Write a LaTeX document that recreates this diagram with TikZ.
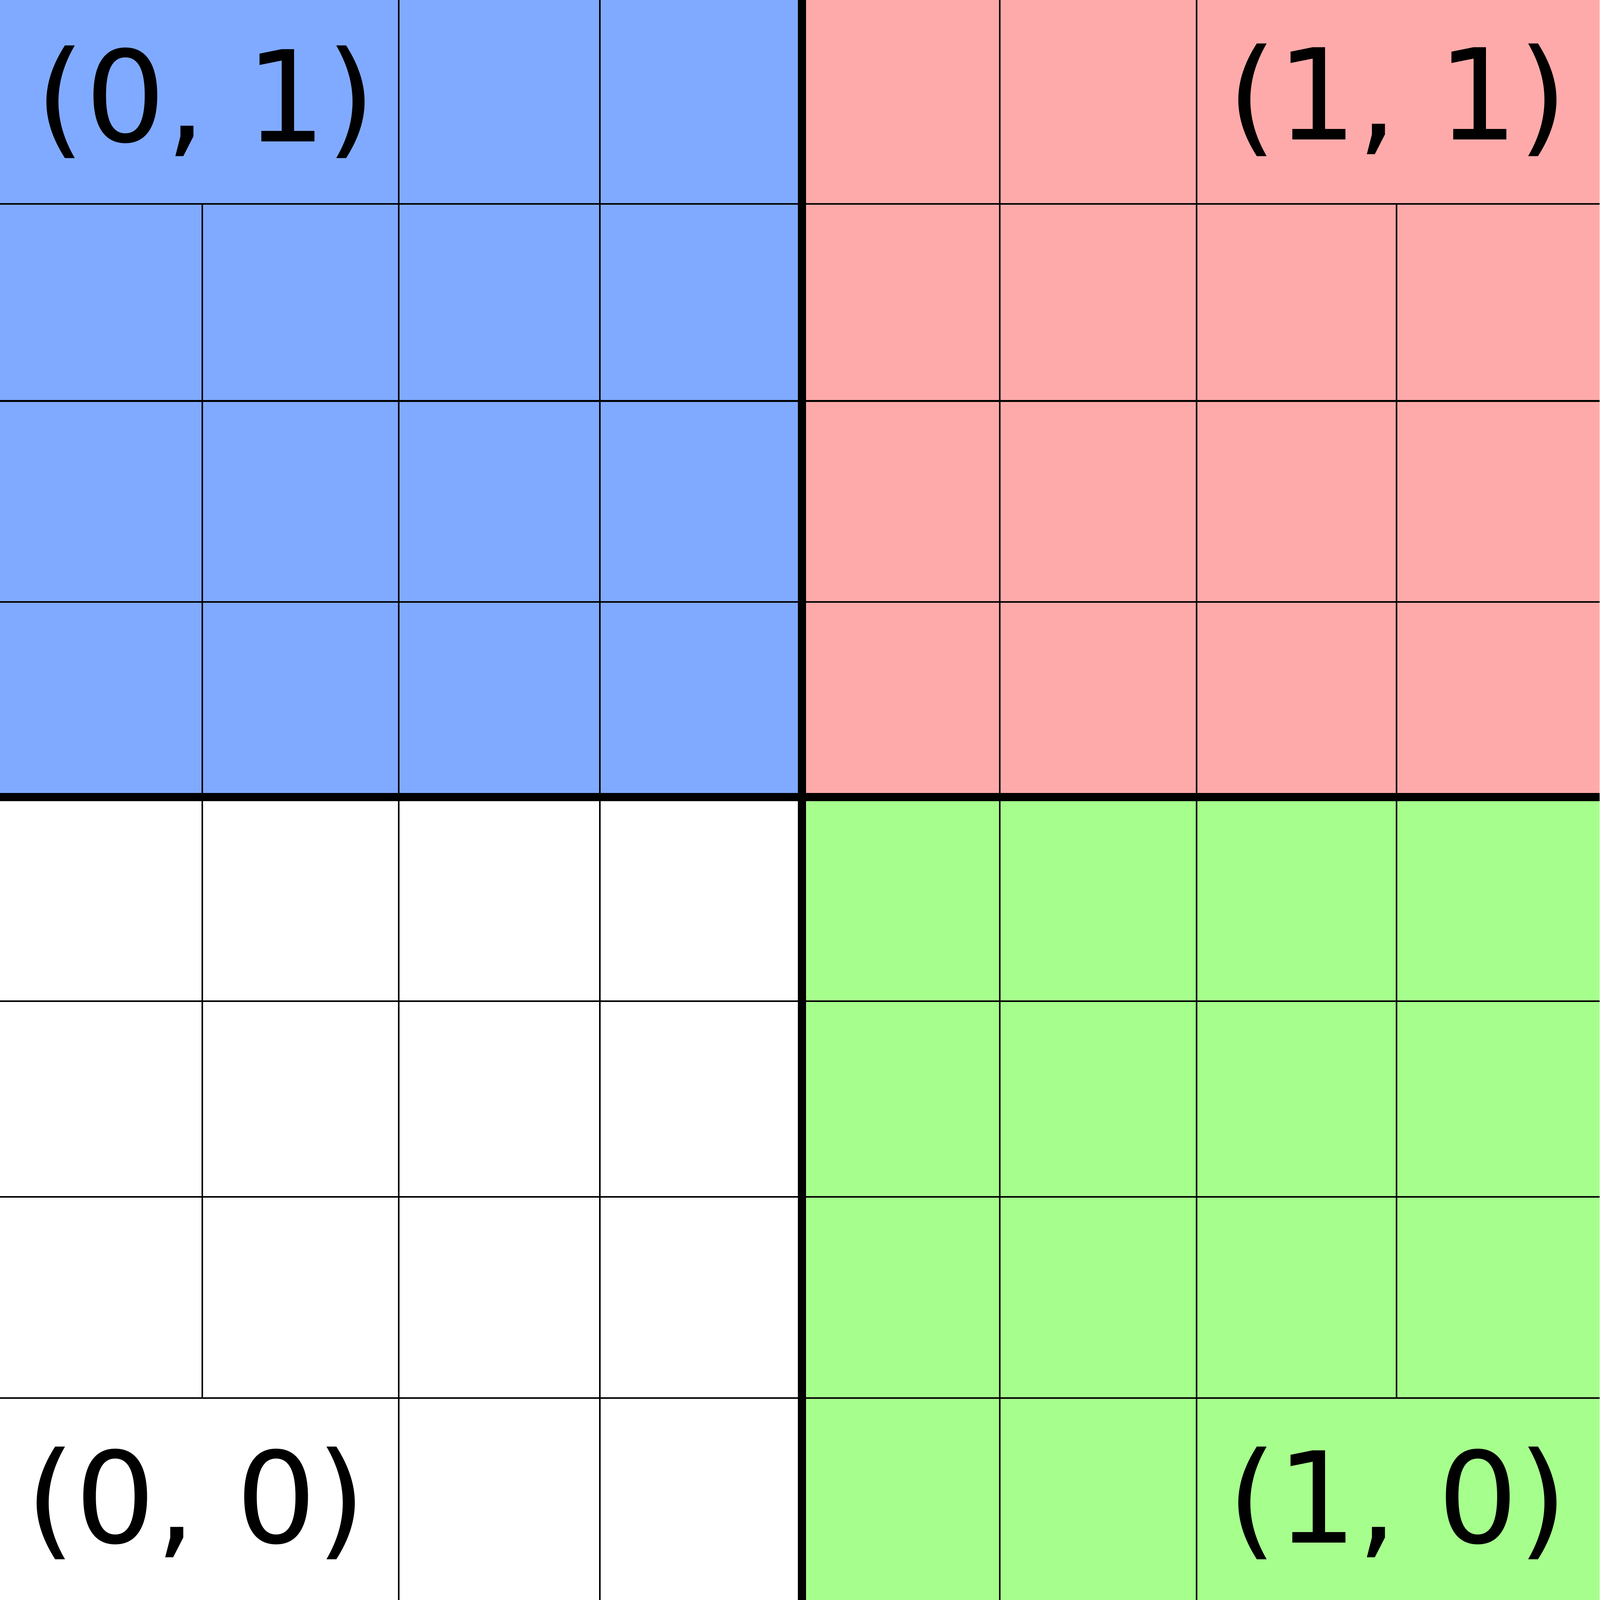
\documentclass[tikz,border=0pt]{standalone}
\usepackage{fontspec}
\setmainfont{DejaVu Sans}
\usetikzlibrary{positioning}
\definecolor{quadblue}{HTML}{80AAFF}
\definecolor{quadred}{HTML}{FFAAAA}
\definecolor{quadgreen}{HTML}{A6FF8C}

\begin{document}
\begin{tikzpicture}[x=2cm, y=2cm, every node/.style={font=\fontsize{36}{40}\selectfont, inner sep=0pt},
    gridline/.style={line width=0.45pt}, splitline/.style={line width=2.3pt}]

        \useasboundingbox (0,0) rectangle (8,8);

        \def\n{8} % cells per side
        \def\hx{4.01} % where the quadrants meet
        \def\hy{4.015}

        % quadrant colours (bottom left stays white)
        \fill[quadblue] (0,\hy) rectangle (\hx,\n);
        \fill[quadred] (\hx,\hy) rectangle (\n,\n);
        \fill[quadgreen] (\hx,0) rectangle (\n,\hy);

        \foreach \j in {1.01,2.015,2.995,4.99,5.995,6.98} {
          \draw[gridline] (0,\j) -- (\n,\j);
        }

        \foreach \i in {1.995,3.0,5.0,5.985} {
          \draw[gridline] (\i,0) -- (\i,\n);
        }

        % these stop short of the label cells
        \foreach \i in {1.012,6.985} {
          \draw[gridline] (\i,1.01) -- (\i,6.98);
        }

        \draw[splitline] (0,\hy) -- (\n,\hy);
        \draw[splitline] (\hx,0) -- (\hx,\n);

        \node (lbl01) at (1.03,7.49) {(0, 1)};
        \node (lbl11) at (6.99,7.50) {(1, 1)};
        \node (lbl00) at (0.98,0.485) {(0, 0)};
        \node (lbl10) at (6.99,0.485) {(1, 0)};

      \end{tikzpicture}
\end{document}
